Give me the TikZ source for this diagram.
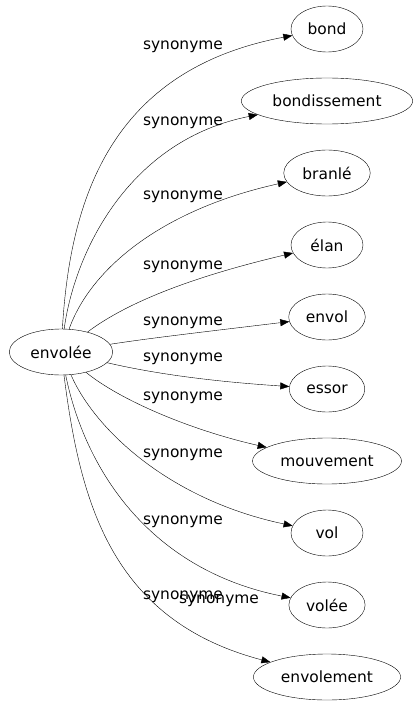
\documentclass[tikz,border=0pt]{standalone}
\usepackage{fontspec}
\setmainfont{DejaVu Sans}
\usetikzlibrary{shapes.geometric,arrows.meta}
\tikzset{>={Triangle[length=9bp,width=7bp]}}
\tikzset{word/.style={draw,ellipse,minimum width=72bp,minimum height=46bp,inner xsep=6bp,font=\fontsize{15.5}{18}\selectfont},
syn/.style={font=\fontsize{15.5}{18}\selectfont,inner sep=0pt}}

\begin{document}
\begin{tikzpicture}[x=1bp,y=-1bp]
\useasboundingbox (0,0) rectangle (418,707);
\node[word] (envolee) at (61,352) {envolée};
\node[word] (bond) at (327,29) {bond};
\node[word] (bondissement) at (327,101) {bondissement};
\node[word] (branle) at (327,173) {branlé};
\node[word] (elan) at (327,245) {élan};
\node[word] (envol) at (327,317) {envol};
\node[word] (essor) at (327,389) {essor};
\node[word] (mouvement) at (327,461) {mouvement};
\node[word] (vol) at (327,533) {vol};
\node[word] (volee) at (327,605) {volée};
\node[word] (envolement) at (327,677) {envolement};
% edges
\draw[->] (envolee) .. controls (70,200) and (110,70) .. (bond);
\draw[->] (envolee) .. controls (75,250) and (130,140) .. (bondissement);
\draw[->] (envolee) .. controls (90,270) and (160,210) .. (branle);
\draw[->] (envolee) .. controls (130,300) and (200,275) .. (elan);
\draw[->] (envolee) .. controls (150,338) and (220,330) .. (envol);
\draw[->] (envolee) .. controls (160,375) and (220,382) .. (essor);
\draw[->] (envolee) .. controls (120,400) and (190,430) .. (mouvement);
\draw[->] (envolee) .. controls (95,430) and (170,500) .. (vol);
\draw[->] (envolee) .. controls (85,470) and (150,570) .. (volee);
\draw[->] (envolee) .. controls (80,500) and (110,620) .. (envolement);
% labels
\node[syn] (s1) at (183,47) {synonyme};
\node[syn] (s2) at (183,123) {synonyme};
\node[syn] (s3) at (183,197) {synonyme};
\node[syn] (s4) at (183,267) {synonyme};
\node[syn] (s5) at (183,323) {synonyme};
\node[syn] (s6) at (183,359) {synonyme};
\node[syn] (s7) at (183,398) {synonyme};
\node[syn] (s8) at (183,455) {synonyme};
\node[syn] (s9) at (183,522) {synonyme};
\node[syn] (s10) at (183,597) {synonyme};
\node[syn] (s11) at (219,601) {synonyme};
\end{tikzpicture}
\end{document}
